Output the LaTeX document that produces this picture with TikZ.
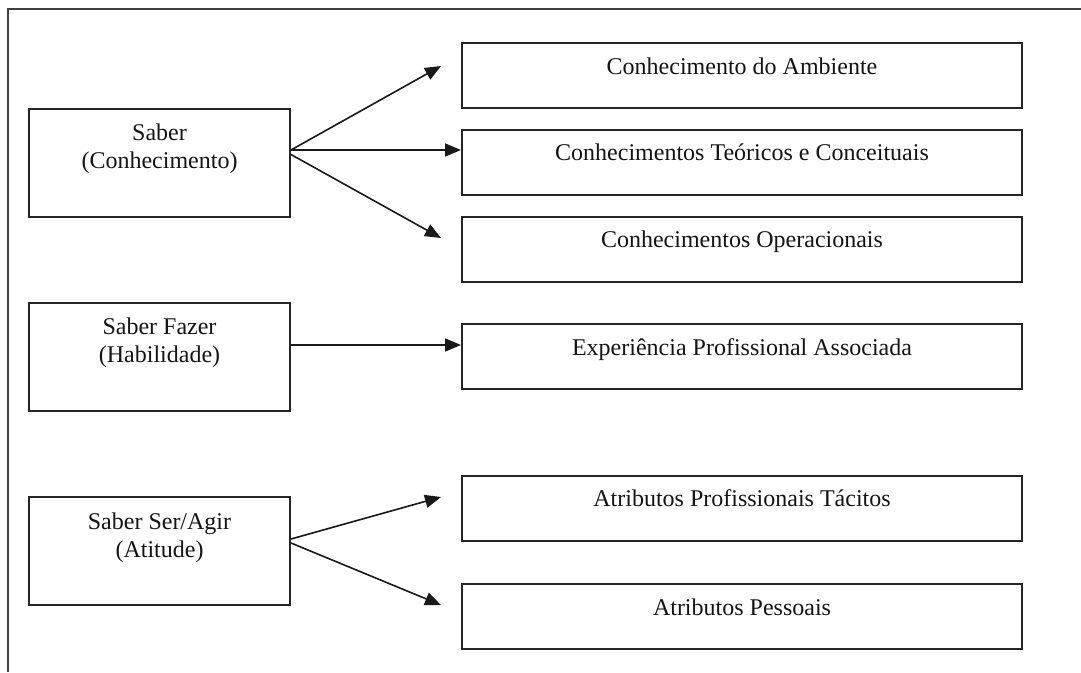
\documentclass[tikz,border=0pt]{standalone}
\usepackage{fontspec}
\setmainfont{Liberation Serif}
\usetikzlibrary{arrows.meta}
\begin{document}
\begin{tikzpicture}[x=1pt,y=-1pt,
  box/.style={draw=black!85, line width=2pt, rectangle, inner sep=0pt, font=\fontsize{24}{28}\selectfont, text=black!92},
  leftbox/.style={box, minimum width=261pt, minimum height=108pt, text height=32pt, text depth=76pt},
  rightbox/.style={box, minimum width=560pt, minimum height=65pt, text height=31pt, text depth=34pt},
  conn/.style={draw=black!90, line width=1.6pt, -{Triangle[length=16pt,width=13pt]}},
  frame/.style={draw=black!75, line width=2.4pt}]
\useasboundingbox (0,0) rectangle (1081,672);
\draw[frame] (1081,9) -- (8,9) -- (8,672);

% left boxes
\node[leftbox] (saber) at (159.5,162.5) {\begin{tabular}[t]{@{}c@{}}Saber\\(Conhecimento)\end{tabular}};
\node[leftbox] (fazer) at (159.5,356.5) {\begin{tabular}[t]{@{}c@{}}Saber Fazer\\(Habilidade)\end{tabular}};
\node[leftbox] (ser) at (159.5,551) {\begin{tabular}[t]{@{}c@{}}Saber Ser/Agir\\(Atitude)\end{tabular}};

% right boxes
\node[rightbox] (r1) at (742,75.5) {Conhecimento do Ambiente};
\node[rightbox] (r2) at (742,162) {Conhecimentos Teóricos e Conceituais};
\node[rightbox] (r3) at (742,249) {Conhecimentos Operacionais};
\node[rightbox] (r4) at (742,356.5) {Experiência Profissional Associada};
\node[rightbox] (r5) at (742,508) {Atributos Profissionais Tácitos};
\node[rightbox] (r6) at (742,616.5) {Atributos Pessoais};

% free arrow tips
\coordinate (t1) at (441,66);
\coordinate (t3) at (441,238);
\coordinate (t5) at (441,497);
\coordinate (t6) at (441,605);

\draw[conn] ([yshift=12.5pt]saber.east) -- (t1);
\draw[conn] ([yshift=12.5pt]saber.east) -- ([yshift=12pt]r2.west);
\draw[conn] ([yshift=8pt]saber.east) -- (t3);
\draw[conn] ([yshift=11.5pt]fazer.east) -- ([yshift=11.5pt]r4.west);
\draw[conn] ([yshift=12pt]ser.east) -- (t5);
\draw[conn] ([yshift=8pt]ser.east) -- (t6);
\end{tikzpicture}
\end{document}
